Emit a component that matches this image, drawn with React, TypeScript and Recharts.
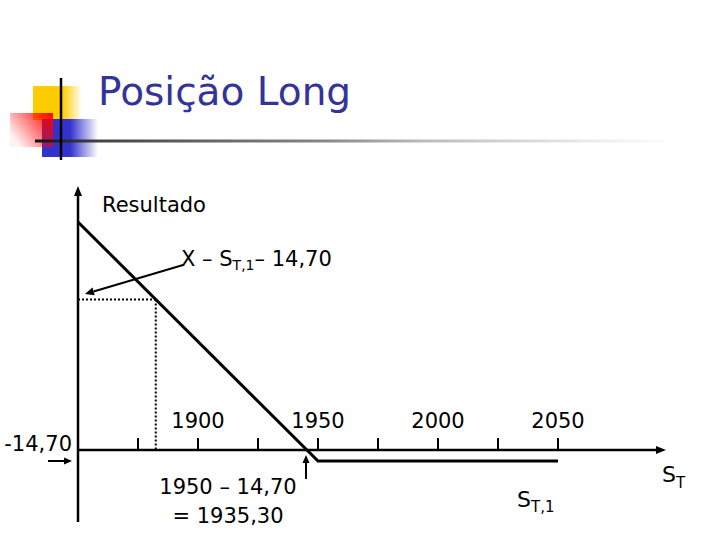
import { LineChart, Line, XAxis, YAxis, ReferenceLine } from 'recharts';

// payoff of the long position (schematic)
const prices = [1850, 1950, 2050];
const results = [304, -14.7, -14.7];

// axis ticks along S_T
const tickValues = [1875, 1900, 1925, 1950, 1975, 2000, 2025, 2050];
const tickLabels = ['', '1900', '', '1950', '', '2000', '', '2050'];
const tickHeight = 16;

// marked points
const strikeLoss = -14.7;
const sT1 = 1882.4;
const resultAtST1 = 200.7;
const breakEven = 1945;

// annotation arrows (data units)
const noteArrow = [
  { x: 1893.8, y: 246.7 },
  { x: 1852.9, y: 208 },
];
const lossArrow = [
  { x: 1837.5, y: strikeLoss },
  { x: 1847.5, y: strikeLoss },
];
const breakEvenArrow = [
  { x: breakEven, y: -38.7 },
  { x: breakEven, y: -6.7 },
];

const xDomain = [1850, 2095];
const yDomain = [-96, 352];

const data = prices.map((s, i) => ({ s, r: results[i] }));

const FONT = '"DejaVu Sans", Verdana, sans-serif';

// line with a filled arrow head; tip decides which end gets the head
const arrow =
  (head: number, half: number, width: number, tip: 'end' | 'top' | 'right' = 'end') =>
  (p: any) => {
    let { x1, y1, x2, y2 } = p;
    if ((tip === 'top' && y1 < y2) || (tip === 'right' && x1 > x2)) {
      [x1, y1, x2, y2] = [x2, y2, x1, y1];
    }
    const len = Math.hypot(x2 - x1, y2 - y1) || 1;
    const ux = (x2 - x1) / len;
    const uy = (y2 - y1) / len;
    const bx = x2 - ux * head;
    const by = y2 - uy * head;
    const pts = `${x2},${y2} ${bx - uy * half},${by + ux * half} ${bx + uy * half},${by - ux * half}`;
    return (
      <g>
        <line x1={x1} y1={y1} x2={bx} y2={by} stroke="#000" strokeWidth={width} />
        <polygon points={pts} fill="#000" />
      </g>
    );
  };

const Decoration = () => (
  <svg width={720} height={540} style={{ position: 'absolute', left: 0, top: 0, pointerEvents: 'none' }}>
    <defs>
      <linearGradient id="yel" x1="0" y1="0" x2="1" y2="0">
        <stop offset="0" stopColor="#FFCC00" />
        <stop offset="0.6" stopColor="#FFCC00" />
        <stop offset="1" stopColor="#FFCC00" stopOpacity="0" />
      </linearGradient>
      <linearGradient id="blu" x1="0" y1="0" x2="1" y2="0">
        <stop offset="0" stopColor="#3333CC" />
        <stop offset="0.5" stopColor="#3333CC" />
        <stop offset="1" stopColor="#3333CC" stopOpacity="0" />
      </linearGradient>
      <linearGradient id="red" x1="1" y1="0" x2="0" y2="0.6">
        <stop offset="0" stopColor="#FF0000" />
        <stop offset="1" stopColor="#FF0000" stopOpacity="0.05" />
      </linearGradient>
      <linearGradient id="rule" x1="35" y1="0" x2="680" y2="0" gradientUnits="userSpaceOnUse">
        <stop offset="0" stopColor="#111" />
        <stop offset="0.1" stopColor="#444" />
        <stop offset="0.45" stopColor="#888" />
        <stop offset="0.6" stopColor="#bbb" />
        <stop offset="0.88" stopColor="#eee" />
        <stop offset="1" stopColor="#fff" />
      </linearGradient>
    </defs>
    <rect x={33} y={86} width={49} height={34} fill="url(#yel)" />
    <rect x={42} y={119} width={56} height={38} fill="url(#blu)" />
    <rect x={10} y={113} width={43} height={34} fill="url(#red)" />
    <rect x={35} y={139.5} width={645} height={3} fill="url(#rule)" />
    <line x1={61} y1={78} x2={61} y2={160} stroke="#000" strokeWidth={2.5} />
    <text x={98} y={105} fontSize={39} fill="#333399" fontFamily={FONT}>
      Posição Long
    </text>

    <g fontFamily={FONT} fill="#000" fontSize={21}>
      <text x={102} y={212}>Resultado</text>
      <text x={181} y={266}>
        X – S<tspan fontSize={14} dy={4}>T,1</tspan>
        <tspan dy={-4}>– 14,70</tspan>
      </text>
      <text x={72} y={451} textAnchor="end">-14,70</text>
      <text x={228} y={494} textAnchor="middle">1950 – 14,70</text>
      <text x={228} y={523} textAnchor="middle">= 1935,30</text>
      <text x={517} y={507} fontSize={22}>
        S<tspan fontSize={15} dy={5}>T,1</tspan>
      </text>
      <text x={662} y={482} fontSize={22}>
        S<tspan fontSize={15} dy={6}>T</tspan>
      </text>
    </g>
  </svg>
);

export default function App() {
  return (
    <div
      style={{
        position: 'absolute',
        left: 0,
        top: 0,
        width: 720,
        height: 540,
        background: '#fff',
        fontFamily: FONT,
      }}
    >
      <LineChart width={720} height={540} data={data} margin={{ top: 186, right: 54, bottom: 18, left: 78 }}>
        <XAxis dataKey="s" type="number" domain={xDomain} hide />
        <YAxis type="number" domain={yDomain} hide />

        {/* axes */}
        <ReferenceLine x={xDomain[0]} ifOverflow="visible" shape={arrow(10, 4, 2.5, 'top')} />
        <ReferenceLine y={0} ifOverflow="visible" shape={arrow(10, 4, 2.5, 'right')} />
        {tickValues.map((t, i) => (
          <ReferenceLine
            key={t}
            segment={[
              { x: t, y: 0 },
              { x: t, y: tickHeight },
            ]}
            ifOverflow="visible"
            stroke="#000"
            strokeWidth={2}
            label={
              tickLabels[i]
                ? { value: tickLabels[i], position: 'top', offset: 10, fontSize: 21, fill: '#000' }
                : undefined
            }
          />
        ))}

        {/* S_T,1 guides */}
        <ReferenceLine
          segment={[
            { x: xDomain[0], y: resultAtST1 },
            { x: sT1, y: resultAtST1 },
          ]}
          ifOverflow="visible"
          stroke="#000"
          strokeWidth={2}
          strokeDasharray="2 2"
        />
        <ReferenceLine
          segment={[
            { x: sT1, y: resultAtST1 },
            { x: sT1, y: 0 },
          ]}
          ifOverflow="visible"
          stroke="#000"
          strokeWidth={2}
          strokeDasharray="2 2"
        />

        {/* annotation arrows */}
        <ReferenceLine segment={noteArrow} ifOverflow="visible" shape={arrow(9, 4, 2)} />
        <ReferenceLine segment={lossArrow} ifOverflow="visible" shape={arrow(8, 3.5, 2)} />
        <ReferenceLine segment={breakEvenArrow} ifOverflow="visible" shape={arrow(8, 3.5, 2)} />

        <Line
          type="linear"
          dataKey="r"
          stroke="#000"
          strokeWidth={3}
          dot={false}
          activeDot={false}
          isAnimationActive={false}
        />
      </LineChart>
      <Decoration />
    </div>
  );
}
